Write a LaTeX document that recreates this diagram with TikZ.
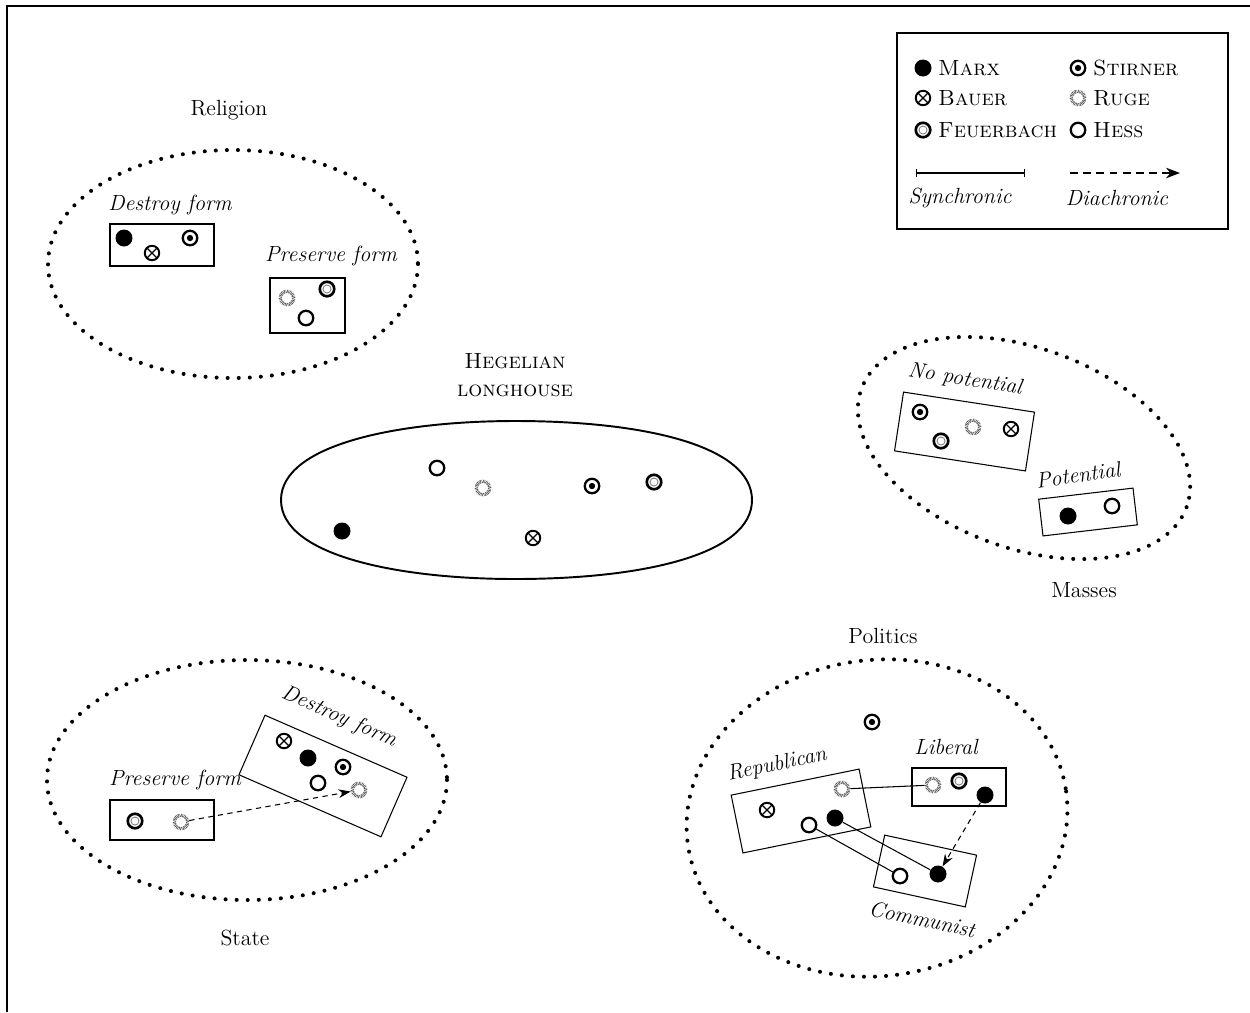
\documentclass[tikz,border=0pt]{standalone}
\usetikzlibrary{arrows.meta}

\tikzset{
  txt/.style={font=\fontsize{12.5}{15}\selectfont, inner sep=1pt},
  itxt/.style={font=\fontsize{12.5}{15}\selectfont\itshape, inner sep=1pt},
  sctxt/.style={font=\fontsize{12.5}{15}\selectfont\scshape, inner sep=1pt},
  box/.style={draw, line width=0.6pt, inner sep=0pt},
  realm/.style={draw, line width=2.3pt, line cap=round, dash pattern=on 0pt off 6.3pt},
  % the six thinkers
  marx/.style={circle, fill=black, minimum size=0.34cm, inner sep=0pt},
  stirner/.style={circle, draw, line width=1.3pt, minimum size=0.29cm, inner sep=0pt,
    path picture={\fill (path picture bounding box.center) circle (1.8pt);}},
  bauer/.style={circle, draw, line width=1.1pt, minimum size=0.29cm, inner sep=0pt,
    path picture={\draw[line width=0.7pt] (path picture bounding box.north west) -- (path picture bounding box.south east)
      (path picture bounding box.north east) -- (path picture bounding box.south west);}},
  feuer/.style={circle, draw, line width=1.5pt, minimum size=0.29cm, inner sep=0pt,
    path picture={\draw[gray, line width=0.5pt] (path picture bounding box.center) circle (2.3pt);}},
  ruge/.style={circle, draw=gray!70!black, line width=1.9pt, dash pattern=on 0.35pt off 0.45pt,
    minimum size=0.27cm, inner sep=0pt},
  hess/.style={circle, draw, line width=1.3pt, fill=white, minimum size=0.29cm, inner sep=0pt},
  % links
  sync/.style={line width=0.6pt},
  diac/.style={line width=0.6pt, dash pattern=on 3pt off 2.5pt, -{Stealth[length=7pt,width=5pt]}}
}

\begin{document}
\begin{tikzpicture}[x=0.02cm, y=-0.02cm]

    \useasboundingbox (0,0) rectangle (1250,1012);

    % frame
    \draw[line width=0.6pt] (1250,6) -- (7,6) -- (7,1012);

    % legend
    \draw[line width=0.8pt] (897,33) rectangle (1228,229);
    \node[marx] (kmarx) at (923,68) {};
    \node[sctxt, anchor=west] (tmarx) at (936,68) {Marx};
    \node[bauer] (kbauer) at (923,98) {};
    \node[sctxt, anchor=west] (tbauer) at (936,98) {Bauer};
    \node[feuer] (kfeuer) at (923,130) {};
    \node[sctxt, anchor=west] (tfeuer) at (936,130) {Feuerbach};
    \node[stirner] (kstirner) at (1078,68) {};
    \node[sctxt, anchor=west] (tstirner) at (1091,68) {Stirner};
    \node[ruge] (kruge) at (1078,98) {};
    \node[sctxt, anchor=west] (truge) at (1091,98) {Ruge};
    \node[hess] (khess) at (1078,130) {};
    \node[sctxt, anchor=west] (thess) at (1091,130) {Hess};
    \coordinate (sa) at (916,173);
    \coordinate (sb) at (1025,173);
    \draw[sync, {Bar[width=5pt]}-{Bar[width=5pt]}] (sa) -- (sb);
    \node[itxt] (tsync) at (960,198) {Synchronic};
    \coordinate (da) at (1070,173);
    \coordinate (db) at (1180,173);
    \draw[line width=0.8pt, dash pattern=on 4.5pt off 3pt, -{Stealth[length=8pt,width=6pt]}] (da) -- (db);
    \node[itxt] (tdiac) at (1117,198) {Diachronic};

    % religion
    \node[txt] (religion) at (229,110) {Religion};
    \draw[realm] (233,264) ellipse [x radius=185, y radius=114];
    \node[itxt] (rdlab) at (170,205) {Destroy form};
    \node[box, minimum width=2.08cm, minimum height=0.84cm] (rdbox) at (162,245) {};
    \node[marx] (rdmarx) at (124,238) {};
    \node[bauer] (rdbauer) at (152,253) {};
    \node[stirner] (rdstirner) at (190,238) {};
    \node[itxt] (rplab) at (331,256) {Preserve form};
    \node[box, minimum width=1.5cm, minimum height=1.1cm] (rpbox) at (307.5,305.5) {};
    \node[ruge] (rpruge) at (287,298) {};
    \node[feuer] (rpfeuer) at (327,289) {};
    \node[hess] (rphess) at (306,318) {};

    % hegelian longhouse
    \node[txt, align=center, font=\fontsize{12.5}{16}\selectfont\scshape] (hegel) at (515,375) {Hegelian\\longhouse};
    \draw[line width=1.1pt] (281,500) .. controls (281,444) and (400,421) .. (515,421)
        .. controls (645,421) and (752,446) .. (752,500)
        .. controls (752,554) and (645,579) .. (515,579)
        .. controls (400,579) and (281,556) .. (281,500) -- cycle;
    \node[hess] (hhess) at (437,468) {};
    \node[ruge] (hruge) at (483,488) {};
    \node[stirner] (hstirner) at (592,486) {};
    \node[feuer] (hfeuer) at (654,482) {};
    \node[marx] (hmarx) at (342,531) {};
    \node[bauer] (hbauer) at (533,538) {};

    % masses
    \draw[realm, rotate around={-20:(1024,448)}] (1024,448) ellipse [x radius=173, y radius=100];
    \node[itxt, rotate=-9] (mnlab) at (965,380) {No potential};
    \node[box, rotate=-8.7, minimum width=2.65cm, minimum height=1.19cm] (mnbox) at (964.5,431.5) {};
    \node[stirner] (mnstirner) at (920,412) {};
    \node[feuer] (mnfeuer) at (941,441) {};
    \node[ruge] (mnruge) at (973,427) {};
    \node[bauer] (mnbauer) at (1011,429) {};
    \node[itxt, rotate=8] (mplab) at (1078,475) {Potential};
    \node[box, rotate=6.7, minimum width=1.9cm, minimum height=0.74cm] (mpbox) at (1088,512) {};
    \node[marx] (mpmarx) at (1068,516) {};
    \node[hess] (mphess) at (1112,506) {};
    \node[txt] (masses) at (1084,590) {Masses};

    % politics
    \node[txt] (politics) at (883,636) {Politics};
    \draw[realm, rotate around={8:(877,818)}] (877,818) ellipse [x radius=191, y radius=158];
    \node[stirner] (pstirner) at (872,722) {};
    \node[itxt, rotate=12] (prlab) at (777,765) {Republican};
    \node[box, rotate=11.5, minimum width=2.61cm, minimum height=1.18cm] (prbox) at (801,811) {};
    \node[bauer] (prbauer) at (767,810) {};
    \node[ruge] (prruge) at (842,789) {};
    \node[hess] (prhess) at (809,825) {};
    \node[marx] (prmarx) at (835,818) {};
    \node[itxt] (pllab) at (946,747) {Liberal};
    \node[box, minimum width=1.88cm, minimum height=0.76cm] (plbox) at (959,787) {};
    \node[ruge] (plruge) at (933,785) {};
    \node[feuer] (plfeuer) at (959,781) {};
    \node[marx] (plmarx) at (985,795) {};
    \node[box, rotate=-12.3, minimum width=1.88cm, minimum height=1.06cm] (pcbox) at (925,871) {};
    \node[hess] (pchess) at (900,876) {};
    \node[marx] (pcmarx) at (938,874) {};
    \node[itxt, rotate=-12] (pclab) at (922,919) {Communist};
    %%% links
    \draw[sync] (prruge) -- (plruge);
    \draw[sync] (prhess) -- (pchess);
    \draw[sync] (prmarx) -- (pcmarx);
    \draw[diac] (plmarx) -- (pcmarx);

    % state
    \draw[realm] (247,780) ellipse [x radius=200, y radius=120];
    \node[itxt] (splab) at (175,780) {Preserve form};
    \node[box, minimum width=2.08cm, minimum height=0.8cm] (spbox) at (162,820) {};
    \node[feuer] (spfeuer) at (135,821) {};
    \node[ruge] (spruge) at (181,822) {};
    \node[itxt, rotate=-23.6] (sdlab) at (339,717) {Destroy form};
    \node[box, rotate=-23.6, minimum width=3.1cm, minimum height=1.3cm] (sdbox) at (323,776) {};
    \node[bauer] (sdbauer) at (284,741) {};
    \node[marx] (sdmarx) at (308,758) {};
    \node[stirner] (sdstirner) at (343,767) {};
    \node[hess] (sdhess) at (318,783) {};
    \node[ruge] (sdruge) at (359,790) {};
    \draw[diac] (spruge) -- (sdruge);
    \node[txt] (state) at (245,938) {State};

\end{tikzpicture}
\end{document}
